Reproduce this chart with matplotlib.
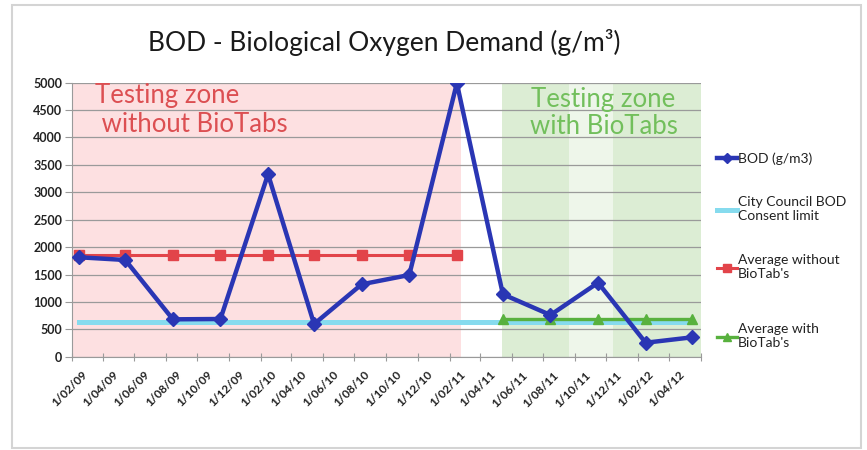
import numpy as np
import pandas as pd
import matplotlib
matplotlib.use('Agg')
import matplotlib.pyplot as plt
from matplotlib.transforms import ScaledTranslation
from matplotlib.patches import Rectangle

plt.rcParams['font.family'] = ['Lato', 'DejaVu Sans']

# sample dates (quarterly) and BOD readings, g/m3
dates = pd.to_datetime(['2009-02-15', '2009-05-15', '2009-08-15', '2009-11-15',
                        '2010-02-15', '2010-05-15', '2010-08-15', '2010-11-15',
                        '2011-02-15', '2011-05-15', '2011-08-15', '2011-11-15',
                        '2012-02-15', '2012-05-15'])
bod = [1814, 1765, 682, 688, 3330, 596, 1321, 1491, 4990, 1139, 761, 1350, 255, 354]
limit = [625] * 14
avg_without = [1853] * 9      # first 9 samples
avg_with = [680] * 5          # last 5 samples

# shaded zones
zone_without = ('2009-02-01', '2011-02-23')
zone_with = [('2011-05-14', '2011-09-19', '#dcedd4'),
             ('2011-09-19', '2011-12-13', '#eef6ea'),
             ('2011-12-13', '2012-06-01', '#dcedd4')]

ticks = pd.date_range('2009-02-01', '2012-06-01', freq='2MS')
tick_labels = [f"{d.day}/{d:%m/%y}" for d in ticks[:-1]] + ['']

fig = plt.figure(figsize=(8.67, 4.5), dpi=100)
ax = fig.add_axes([72/867, 1-356.7/450, 629/867, 274/450])

ax.axvspan(pd.Timestamp(zone_without[0]), pd.Timestamp(zone_without[1]),
           color='#fde0e1', lw=0, zorder=0)
for a, b, c in zone_with:
    ax.axvspan(pd.Timestamp(a), pd.Timestamp(b), color=c, lw=0, zorder=0)

l1, = ax.plot(dates, bod, color='#2a36b4', lw=3.2, marker='D', ms=7, zorder=5,
              label='BOD (g/m3)')
l2, = ax.plot(dates, limit, color='#86dbee', lw=3.6, zorder=3,
              label='City Council BOD\nConsent limit')
l3, = ax.plot(dates[:9], avg_without, color='#e2444a', lw=2.2, marker='s', ms=6.5,
              zorder=4, label="Average without\nBioTab's")
l4, = ax.plot(dates[9:], avg_with, color='#58b13e', lw=2.4, marker='^', ms=6.5,
              zorder=4, label="Average with\nBioTab's")

ax.set_xlim(pd.Timestamp('2009-02-01'), pd.Timestamp('2012-06-01'))
ax.set_ylim(0, 5000)
ax.set_yticks(np.arange(0, 5001, 500))
ax.yaxis.grid(True, color='#9a9a9a', lw=0.9)
ax.set_axisbelow(True)
for s in ['top', 'right']:
    ax.spines[s].set_visible(False)
for s in ['left', 'bottom']:
    ax.spines[s].set_color('#9a9a9a')
ax.tick_params(axis='y', length=5, color='#9a9a9a', labelsize=9, pad=2)
ax.tick_params(axis='x', direction='inout', length=6, color='#9a9a9a',
               labelsize=8.5, pad=6)
for lb in ax.get_yticklabels():
    lb.set_fontweight('bold')
    lb.set_color('#222222')

ax.set_xticks(ticks)
ax.set_xticklabels(tick_labels, rotation=45, ha='right', rotation_mode='anchor',
                   fontweight='bold', color='#222222')
off = ScaledTranslation(7/72, 0, fig.dpi_scale_trans)
for lb in ax.get_xticklabels():
    lb.set_transform(lb.get_transform() + off)

ax.text(0.036, 1.0, "Testing zone\n without BioTabs", transform=ax.transAxes,
        ha='left', va='top', fontsize=18.5, color='#dc4f52', linespacing=1.2,
        zorder=6)
ax.text(0.845, 0.985, "Testing zone\nwith BioTabs", transform=ax.transAxes,
        ha='center', va='top', fontsize=18.5, color='#72bf5c', linespacing=1.1,
        zorder=6)

fig.text(0.443, 0.905, "BOD - Biological Oxygen Demand (g/m\u00b3)",
         ha='center', va='center', fontsize=19, color='#1a1a1a')

leg1 = fig.legend(handles=[l1, l2, l3], loc='upper left',
                  bbox_to_anchor=(0.813, 0.69), frameon=False,
                  fontsize=10, labelspacing=2.3, handlelength=1.4,
                  handletextpad=0.1, markerscale=0.8)
leg2 = fig.legend(handles=[l4], loc='upper left',
                  bbox_to_anchor=(0.813, 0.309), frameon=False,
                  fontsize=10, handlelength=1.4,
                  handletextpad=0.1, markerscale=0.8)
for lg in (leg1, leg2):
    for t in lg.get_texts():
        t.set_color('#222222')

fig.patches.append(Rectangle((12/867, 2/450), 849/867, 443/450,
                             transform=fig.transFigure, fill=False,
                             edgecolor='#d4d4d4', lw=1.5))

fig.savefig('out.png', dpi=100)
